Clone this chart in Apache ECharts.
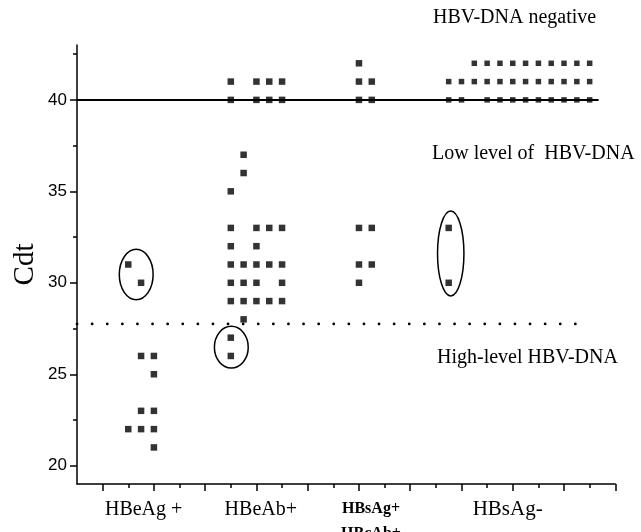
<!DOCTYPE html>
<html>
<head>
<meta charset="utf-8">
<script src="https://cdn.jsdelivr.net/npm/echarts@6/dist/echarts.min.js"></script>
<style>html,body{margin:0;padding:0;background:#fff}#c{width:641px;height:532px}</style>
</head>
<body>
<div id="c"></div>
<script>
// ---- data (x position on group axis, Cdt value) ----
const hbeagPts = [[2,31],[2.5,30],[2.5,26],[3,26],[3,25],[2.5,23],[3,23],[2,22],[2.5,22],[3,22],[3,21]];
const hbeabPts = [
  [6,41],[7,41],[7.5,41],[8,41],
  [6,40],[7,40],[7.5,40],[8,40],
  [6.5,37],[6.5,36],[6,35],
  [6,33],[7,33],[7.5,33],[8,33],
  [6,32],[7,32],
  [6,31],[6.5,31],[7,31],[7.5,31],[8,31],
  [6,30],[6.5,30],[7,30],[8,30],
  [6,29],[6.5,29],[7,29],[7.5,29],[8,29],
  [6.5,28],[6,27],[6,26]
];
const hbsagPosPts = [[11,42],[11,41],[11.5,41],[11,40],[11.5,40],[11,33],[11.5,33],[11,31],[11.5,31],[11,30]];
const hbsagNegLow = [[14.5,33],[14.5,30]];
const hbsagNegTop = [
  [15.5,42],[16,42],[16.5,42],[17,42],[17.5,42],[18,42],[18.5,42],[19,42],[19.5,42],[20,42],
  [14.5,41],[15,41],[15.5,41],[16,41],[16.5,41],[17,41],[17.5,41],[18,41],[18.5,41],[19,41],[19.5,41],[20,41],
  [14.5,40],[15,40],[16,40],[16.5,40],[17,40],[17.5,40],[18,40],[18.5,40],[19,40],[19.5,40],[20,40]
];
// ellipses: centre x, centre y, half-width, half-height (data units)
const ellipses = [[2.31,30.45,0.66,1.38],[6.02,26.48,0.66,1.14],[14.58,31.6,0.515,2.32]];
// reference lines
const negativeCut = 40, negativeLineEnd = 20.35;
const highCut = 27.75, highLineEnd = 19.85;
// axis labels
const groupLabels = ['HBeAg +','HBeAb+','HBsAg+\nHBcAb+','HBsAg-'];
const groupLabelPos = [2.6, 7.17, 11.47, 16.8];
const yLabels = [20,25,30,35,40];
const yMinorTicks = [22.5,27.5,32.5,37.5,42.5];
const xMajorTicks = [1,3,5,7,9,11,13,15,17,19,21];
const xMinorTicks = [2,4,6,8,10,12,14,16,18,20];

const serif = "'Liberation Serif','DejaVu Serif',serif";
const chart = echarts.init(document.getElementById('c'));
const richKeys = ['a','b','c','d'];
chart.setOption({
  animation:false,
  grid:{left:77, top:45, right:25.7, bottom:48, containLabel:false, outerBoundsMode:'none'},
  xAxis:[{
    type:'value', min:0, max:21, position:'bottom',
    splitLine:{show:false},
    axisLine:{show:true, lineStyle:{color:'#000', width:1.5}},
    axisTick:{show:true, customValues:xMajorTicks, length:7, lineStyle:{color:'#000', width:1.5}},
    axisLabel:{show:true, customValues:groupLabelPos, margin:12,
      formatter:function(v){
        const i = groupLabelPos.indexOf(v);
        return i<0 ? '' : '{'+richKeys[i]+'|'+groupLabels[i].split('\n').join('}\n{'+richKeys[i]+'|')+'}';
      },
      rich:{
        a:{fontFamily:serif, fontSize:20, color:'#000', lineHeight:22, padding:[5,0,0,0]},
        b:{fontFamily:serif, fontSize:20, color:'#000', lineHeight:22, padding:[5,0,0,0]},
        c:{fontFamily:serif, fontSize:16, fontWeight:'bold', color:'#000', lineHeight:25},
        d:{fontFamily:serif, fontSize:21, color:'#000', lineHeight:22, padding:[4,0,0,0]}
      }
    }
  },{
    type:'value', min:0, max:21, position:'bottom',
    splitLine:{show:false},
    axisLine:{show:false},
    axisTick:{show:true, customValues:xMinorTicks, length:4, lineStyle:{color:'#000', width:1.5}},
    axisLabel:{show:false}
  }],
  yAxis:[{
    type:'value', min:19, max:43, position:'left',
    name:'Cdt', nameLocation:'middle', nameRotate:90, nameGap:37, nameMoveOverlap:false,
    nameTextStyle:{fontFamily:serif, fontSize:29, color:'#000'},
    splitLine:{show:false},
    axisLine:{show:true, lineStyle:{color:'#000', width:1.5}},
    axisTick:{show:true, customValues:yLabels, length:7, lineStyle:{color:'#000', width:1.5}},
    axisLabel:{show:true, customValues:yLabels, margin:10, fontFamily:"'Liberation Sans',Arial,sans-serif", fontSize:17, color:'#000'}
  },{
    type:'value', min:19, max:43, position:'left',
    splitLine:{show:false},
    axisLine:{show:false},
    axisTick:{show:true, customValues:yMinorTicks, length:4, lineStyle:{color:'#000', width:1.5}},
    axisLabel:{show:false}
  }],
  series:[
    {type:'line', data:[[0,negativeCut],[negativeLineEnd,negativeCut]], symbol:'none', silent:true,
     lineStyle:{color:'#000', width:2}, z:1},
    {type:'line', data:[[0,highCut],[highLineEnd,highCut]], symbol:'none', silent:true,
     lineStyle:{color:'#000', width:2.7, type:[0.1,15], cap:'round'}, z:1},
    {type:'scatter', data:hbeagPts, symbol:'rect', symbolSize:6.5, itemStyle:{color:'#000'}, z:3},
    {type:'scatter', data:hbeabPts, symbol:'rect', symbolSize:6.5, itemStyle:{color:'#000'}, z:3},
    {type:'scatter', data:hbsagPosPts, symbol:'rect', symbolSize:6.5, itemStyle:{color:'#000'}, z:3},
    {type:'scatter', data:hbsagNegLow, symbol:'rect', symbolSize:6.5, itemStyle:{color:'#000'}, z:3},
    {type:'scatter', data:hbsagNegTop, symbol:'rect', symbolSize:5.5, itemStyle:{color:'#000'}, z:3},
    {type:'custom', data:ellipses, clip:false, z:2,
     renderItem:function(params, api){
       const c = api.coord([api.value(0), api.value(1)]);
       const s = api.size([api.value(2), api.value(3)]);
       return {type:'ellipse', shape:{cx:c[0], cy:c[1], rx:s[0], ry:s[1]},
               style:{fill:null, stroke:'#000', lineWidth:1.5}};
     }}
  ],
  graphic:[
    {type:'text', left:433, top:8, style:{text:'HBV-DNA negative', font:"20px "+serif, fill:'#000'}},
    {type:'text', left:432, top:144, style:{text:'Low level of  HBV-DNA', font:"20px "+serif, fill:'#000'}},
    {type:'text', left:437, top:348, style:{text:'High-level HBV-DNA', font:"20px "+serif, fill:'#000'}}
  ]
});
</script>
</body>
</html>
